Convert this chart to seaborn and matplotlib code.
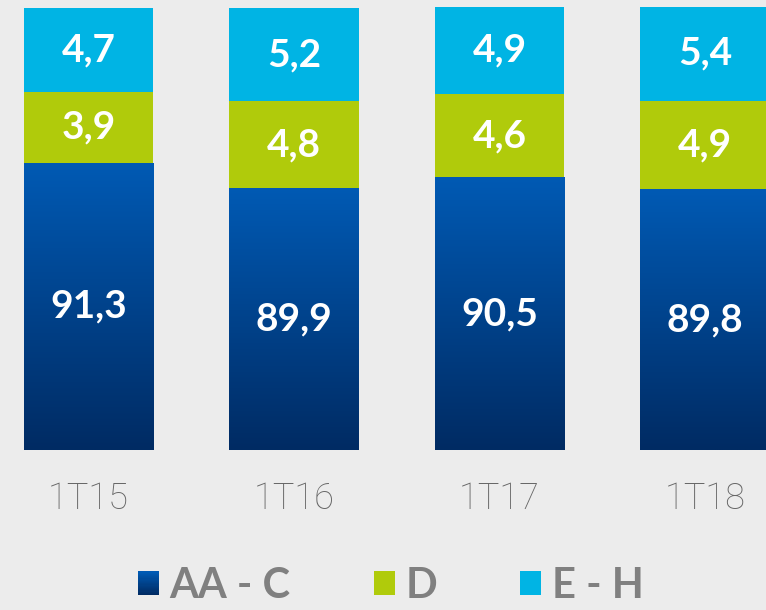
import numpy as np
import pandas as pd
import matplotlib
matplotlib.use("Agg")
import matplotlib.pyplot as plt
import seaborn as sns
from matplotlib.colors import LinearSegmentedColormap
from matplotlib.patches import Rectangle
from matplotlib.legend_handler import HandlerBase

# ---- data ----
categories = ["1T15", "1T16", "1T17", "1T18"]
aa_c = [91.3, 89.9, 90.5, 89.8]
d_vals = [3.9, 4.8, 4.6, 4.9]
e_h = [4.7, 5.2, 4.9, 5.4]
series_names = ["AA - C", "D", "E - H"]

BG = "#ececec"
BLUE_TOP = "#005ab4"
BLUE_BOT = "#002b63"
GREEN = "#b0cb0b"
CYAN = "#00b4e4"
YMIN, YMAX = 75.3, 99.95

sns.set_theme(style="white")
plt.rcParams["font.family"] = ["Lato", "DejaVu Sans"]

fig = plt.figure(figsize=(7.66, 6.10), dpi=100, facecolor=BG)
ax = fig.add_axes([0, 0.262, 1, 0.7265])
ax.set_facecolor(BG)

df = pd.DataFrame({"cat": categories, "aa": aa_c, "d": d_vals, "eh": e_h})
df["aa_d"] = df["aa"] + df["d"]
df["total"] = df["aa_d"] + df["eh"]

W = 0.63
bar_kw = dict(saturation=1, width=W, ax=ax, linewidth=0, edgecolor="none")
sns.barplot(data=df, x="cat", y="total", color=CYAN, **bar_kw)
sns.barplot(data=df, x="cat", y="aa_d", color=GREEN, **bar_kw)
n_before = len(ax.patches)
sns.barplot(data=df, x="cat", y="aa", color=BLUE_TOP, **bar_kw)
blue_patches = ax.patches[n_before:]

cmap = LinearSegmentedColormap.from_list("bl", [BLUE_BOT, BLUE_TOP])
grad = np.linspace(0, 1, 256).reshape(-1, 1)
for p in blue_patches:
    x0, w, h = p.get_x(), p.get_width(), p.get_height()
    im = ax.imshow(grad, cmap=cmap, aspect="auto", origin="lower",
                   extent=[x0, x0 + w, YMIN, h], zorder=p.get_zorder() + 0.1)
    im.set_clip_path(p)

def fmt(v):
    return f"{v:.1f}".replace(".", ",")

lab_kw = dict(ha="center", va="center", color="white", fontsize=28, fontweight="bold", zorder=10)
for i in range(len(categories)):
    ax.text(i, (YMIN + df["aa"][i]) / 2, fmt(aa_c[i]), **lab_kw)
    ax.text(i, df["aa"][i] + d_vals[i] / 2, fmt(d_vals[i]), **lab_kw)
    ax.text(i, df["aa_d"][i] + e_h[i] / 2, fmt(e_h[i]), **lab_kw)

ax.set_xlim(-0.43, 3.297)
ax.set_ylim(YMIN, YMAX)
ax.set_xlabel("")
ax.set_ylabel("")
ax.set_yticks([])
for s in ax.spines.values():
    s.set_visible(False)
ax.tick_params(axis="x", length=0, pad=22, labelsize=26, labelcolor="#666666")
for t in ax.get_xticklabels():
    t.set_fontfamily(["Roboto", "DejaVu Sans"])
    t.set_fontweight("light")


class HandlerGradient(HandlerBase):
    def create_artists(self, legend, orig_handle, xdescent, ydescent, width, height, fontsize, trans):
        arts = []
        n = 20
        for k in range(n):
            r = Rectangle((-xdescent, -ydescent + height * k / n), width, height / n + 0.3,
                          facecolor=cmap(k / (n - 1)), edgecolor="none", transform=trans)
            arts.append(r)
        return arts


h_blue = Rectangle((0, 0), 1, 1, facecolor=BLUE_TOP)
h_green = Rectangle((0, 0), 1, 1, facecolor=GREEN, edgecolor="none")
h_cyan = Rectangle((0, 0), 1, 1, facecolor=CYAN, edgecolor="none")
leg = fig.legend([h_blue, h_green, h_cyan], series_names,
                 handler_map={h_blue: HandlerGradient()},
                 loc="center", bbox_to_anchor=(391 / 766, 1 - 586 / 610), ncol=3,
                 frameon=False, prop={"weight": "bold", "size": 30},
                 handlelength=0.5, handleheight=0.5, handletextpad=0.25,
                 columnspacing=2.0, borderpad=0)
for t in leg.get_texts():
    t.set_color("#808080")

fig.savefig("out.png", dpi=100, facecolor=BG)
